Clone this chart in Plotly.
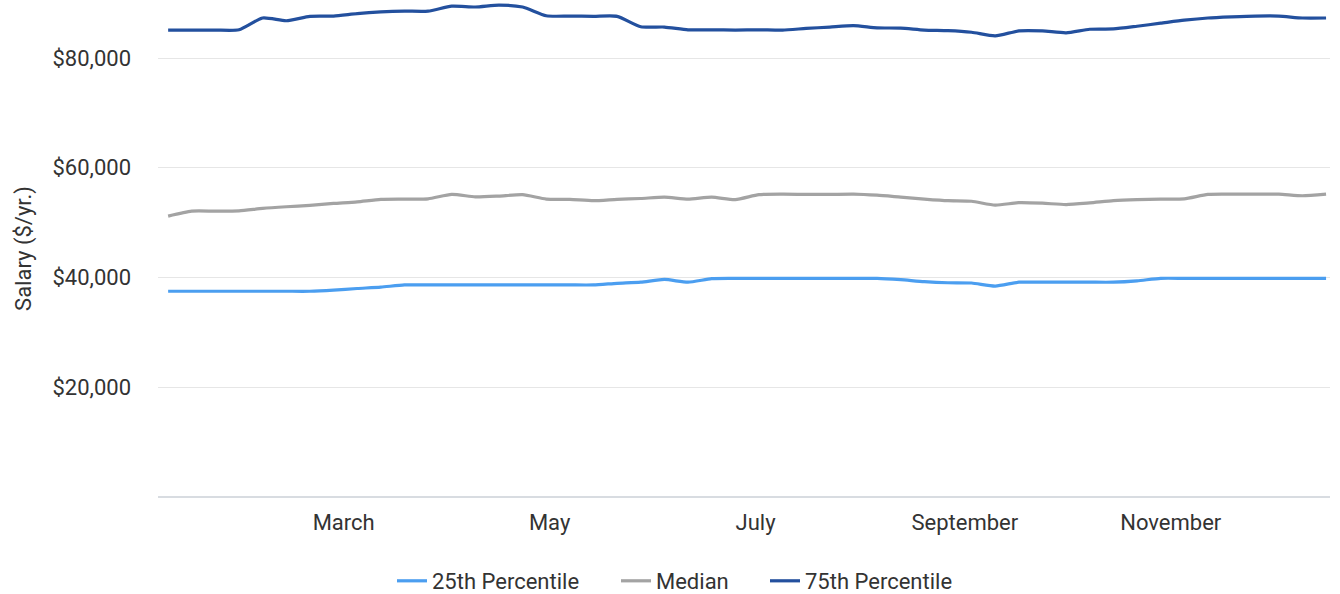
import plotly.graph_objects as go
import pandas as pd

dates = pd.date_range("2023-01-08", periods=50, freq="7D")

p25 = [37500, 37500, 37500, 37500, 37500, 37500, 37500, 37700, 38000, 38250,
       38650, 38650, 38650, 38650, 38650, 38650, 38650, 38650, 38650, 38950,
       39150, 39650, 39150, 39800, 39850, 39850, 39850, 39850, 39850, 39850,
       39850, 39600, 39250, 39050, 39000, 38450, 39150, 39150, 39150, 39150,
       39150, 39400, 39850, 39850, 39850, 39850, 39850, 39850, 39850, 39850]

median = [51200, 52100, 52100, 52150, 52600, 52900, 53150, 53500, 53800, 54250,
          54300, 54350, 55150, 54700, 54850, 55100, 54300, 54250, 54000, 54250,
          54400, 54650, 54300, 54650, 54200, 55100, 55200, 55150, 55150, 55200,
          55000, 54650, 54300, 54000, 53900, 53200, 53650, 53550, 53300, 53600,
          54000, 54200, 54300, 54350, 55150, 55200, 55200, 55200, 54900, 55200]

p75 = [85100, 85100, 85100, 85150, 87300, 86800, 87600, 87650, 88100, 88400,
       88550, 88550, 89450, 89300, 89650, 89300, 87700, 87650, 87600, 87600,
       85700, 85650, 85150, 85150, 85100, 85150, 85100, 85400, 85650, 85900,
       85500, 85450, 85100, 85000, 84700, 84050, 84950, 84950, 84600, 85250,
       85300, 85800, 86350, 86900, 87300, 87500, 87650, 87650, 87300, 87300]

tick_dates = ["2023-03-01", "2023-05-01", "2023-07-01", "2023-09-01", "2023-11-01"]
tick_labels = ["March", "May", "July", "September", "November"]
y_ticks = [20000, 40000, 60000, 80000]
y_labels = ["$20,000", "$40,000", "$60,000", "$80,000"]

series = [
    ("25th Percentile", p25, "#4b9ef0", "legend", 392),
    ("Median", median, "#a3a3a3", "legend2", 616),
    ("75th Percentile", p75, "#23509e", "legend3", 765),
]

FONT = dict(family="Roboto", size=22, color="#333333")

fig = go.Figure()
legend_layout = {}
for name, vals, color, leg, lx in series:
    fig.add_trace(go.Scatter(
        x=dates, y=vals, name=name, mode="lines", legend=leg,
        line=dict(color=color, width=3.2, shape="spline", smoothing=0.6),
    ))
    legend_layout[leg] = dict(
        orientation="h", xref="container", yref="container",
        x=lx / 1340, xanchor="left", y=(594 - 581) / 594, yanchor="middle",
        font=FONT, itemwidth=30, bgcolor="rgba(0,0,0,0)",
    )

fig.update_layout(
    width=1340, height=594,
    margin=dict(l=158, r=10, t=0, b=97, autoexpand=False),
    paper_bgcolor="white", plot_bgcolor="white",
    font=FONT,
    showlegend=True,
    xaxis=dict(
        range=["2023-01-05", "2023-12-18 04:00"],
        tickvals=tick_dates, ticktext=tick_labels,
        showgrid=False, showline=False, zeroline=False, ticks="",
        ticklabelstandoff=10,
        tickfont=FONT,
    ),
    yaxis=dict(
        range=[0, 90580],
        tickvals=y_ticks, ticktext=y_labels,
        showgrid=True, gridcolor="#e6e6e6", gridwidth=1,
        zeroline=True, zerolinecolor="#d8dce1", zerolinewidth=2,
        showline=False, ticks="", ticklabelstandoff=26,
        tickfont=FONT,
        title=dict(text="Salary ($/yr.)", standoff=14, font=FONT),
        automargin=False,
    ),
    **legend_layout,
)

fig.write_html("out.html")
